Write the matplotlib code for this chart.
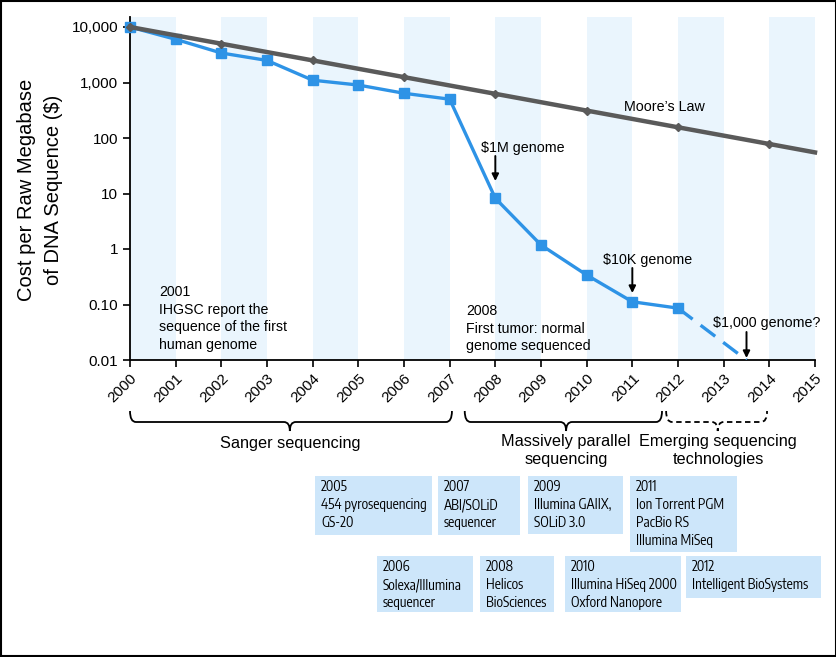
import matplotlib
matplotlib.use("Agg")
import matplotlib.pyplot as plt
import matplotlib.transforms as mtransforms
from matplotlib.patches import Rectangle, PathPatch
from matplotlib.path import Path
from matplotlib import font_manager

# ---------------- data ----------------
cost_years = [2000, 2001, 2002, 2003, 2004, 2005, 2006, 2007, 2008, 2009, 2010, 2011, 2012]
cost_values = [10000, 6000, 3400, 2500, 1100, 900, 640, 500, 8.2, 1.18, 0.34, 0.112, 0.086]
proj_years = [2012, 2013.5]
proj_values = [0.086, 0.01]
moore_years = [2000, 2002, 2004, 2006, 2008, 2010, 2012, 2014, 2015]
moore_values = [10000, 5000, 2500, 1250, 625, 312, 156, 78, 55]
band_starts = [2000, 2002, 2004, 2006, 2008, 2010, 2012, 2014]
year_ticks = list(range(2000, 2016))
y_ticks = [0.01, 0.1, 1, 10, 100, 1000, 10000]
y_tick_labels = ["0.01", "0.10", "1", "10", "100", "1,000", "10,000"]
eras = ["Sanger sequencing", "Massively parallel\nsequencing", "Emerging sequencing\ntechnologies"]
tech_boxes = [
    ["2005", "454 pyrosequencing", "GS-20"],
    ["2007", "ABI/SOLiD", "sequencer"],
    ["2009", "Illumina GAIIX,", "SOLiD 3.0"],
    ["2011", "Ion Torrent PGM", "PacBio RS", "Illumina MiSeq"],
    ["2006", "Solexa/Illumina", "sequencer"],
    ["2008", "Helicos", "BioSciences"],
    ["2010", "Illumina HiSeq 2000", "Oxford Nanopore"],
    ["2012", "Intelligent BioSystems"],
]
milestone_notes = ["2001\nIHGSC report the\nsequence of the first\nhuman genome",
                   "2008\nFirst tumor: normal\ngenome sequenced"]

# ---------------- style ----------------
W, H = 837, 657
BLUE = "#2E93E6"
GRAY = "#5A5A5A"
BAND = "#EAF5FD"
BOXC = "#CDE6FA"

MAIN = ["Liberation Sans", "DejaVu Sans"]
narrow_name = None
for f in font_manager.fontManager.ttflist:
    nm = f.name
    if ("Narrow" in nm or "Condensed" in nm) and ("Sans" in nm or "Roboto" in nm):
        narrow_name = nm
        break
NARROW = [narrow_name, "DejaVu Sans"] if narrow_name else MAIN

plt.rcParams["font.family"] = MAIN

fig = plt.figure(figsize=(W / 100, H / 100), dpi=100)
renderer = fig.canvas.get_renderer()

def fx(x):
    return x / W

def fy(y):
    return 1 - y / H

# size the condensed box font so that a reference line has the measured width
probe = fig.text(0, 0, "454 pyrosequencing", fontsize=10, family=NARROW)
pw = probe.get_window_extent(renderer).width
probe.remove()
nsize = 10 * 106.0 / pw

ax = fig.add_axes([fx(130), fy(360), fx(815) - fx(130), (360 - 17) / H])
ax.set_yscale("log")
ax.set_xlim(2000, 2015)
ax.set_ylim(0.01, 10 ** (4 + 10 / 55.5))

for b in band_starts:
    ax.axvspan(b, b + 1, color=BAND, lw=0, zorder=0)

ax.plot(cost_years, cost_values, color=BLUE, lw=2.4, marker="s", ms=7.5,
        zorder=3, clip_on=False)
ax.plot(proj_years, proj_values, color=BLUE, lw=2.4, ls=(0, (5.5, 3)), zorder=3)
ax.plot(moore_years, moore_values, color=GRAY, lw=3.2, marker="D", ms=4.5,
        markevery=list(range(len(moore_years) - 1)), zorder=4, clip_on=False)

ax.set_yticks(y_ticks)
ax.set_yticklabels(y_tick_labels, fontsize=11)
ax.yaxis.set_minor_locator(matplotlib.ticker.NullLocator())
ax.set_xticks(year_ticks)
ax.set_xticklabels([str(y) for y in year_ticks], fontsize=11, rotation=45,
                   ha="right", rotation_mode="anchor")
ax.tick_params(axis="both", direction="out", length=5, width=1.2, color="black")
ax.tick_params(axis="x", pad=3)
for s in ["top", "right"]:
    ax.spines[s].set_visible(False)
for s in ["left", "bottom"]:
    ax.spines[s].set_linewidth(1.3)
    ax.spines[s].set_color("black")

fig.text(fx(40), fy(190), "Cost per Raw Megabase\nof DNA Sequence ($)", rotation=90,
         ha="center", va="center", multialignment="center", fontsize=14.5,
         linespacing=1.5)

# milestone notes inside the plot
fig.text(fx(159), fy(285), milestone_notes[0], ha="left", va="top",
         fontsize=10.2, linespacing=1.32)
fig.text(fx(466), fy(304), milestone_notes[1], ha="left", va="top",
         fontsize=10.2, linespacing=1.32)

fig.text(fx(624), fy(107), "Moore\u2019s Law", ha="left", va="center", fontsize=10.3)

bt = mtransforms.blended_transform_factory(ax.transData, fig.transFigure)
notes = [("$1M genome", 481, 148, 2008, 156, 181),
         ("$10K genome", 603, 260, 2011, 268, 293),
         ("$1,000 genome?", 713, 323, 2013.5, 332, 358)]
for label, tx, ty, axx, y0, y1 in notes:
    fig.text(fx(tx), fy(ty), label, ha="left", va="center", fontsize=10.3)
    ax.annotate("", xy=(axx, fy(y1)), xycoords=bt, xytext=(axx, fy(y0)), textcoords=bt,
                arrowprops=dict(arrowstyle="-|>", color="black", lw=1.4,
                                mutation_scale=10, shrinkA=0, shrinkB=0),
                annotation_clip=False)

# braces below the axis
def brace_full(x0, x1, xm, ls="-"):
    ytop, yline, ytip = fy(411), fy(422), fy(431)
    r = 0.13
    verts = [(x0, ytop), (x0, yline), (x0 + r, yline), (xm - r, yline),
             (xm, yline), (xm, ytip), (xm, yline), (xm + r, yline),
             (x1 - r, yline), (x1, yline), (x1, ytop)]
    codes = [Path.MOVETO, Path.CURVE3, Path.CURVE3, Path.LINETO,
             Path.CURVE3, Path.CURVE3, Path.CURVE3, Path.CURVE3,
             Path.LINETO, Path.CURVE3, Path.CURVE3]
    p = PathPatch(Path(verts, codes), fill=False, lw=1.3, ls=ls, ec="black",
                  transform=bt, clip_on=False)
    fig.add_artist(p)

brace_spans = [(2000.0, 2007.05, 2003.5, "-"), (2007.33, 2011.65, 2009.55, "-"),
               (2011.74, 2013.95, 2012.87, (0, (3, 2)))]
for x0, x1, xm, ls in brace_spans:
    brace_full(x0, x1, xm, ls)

era_pos = [(290, 445), (566, 443), (718, 443)]
for text, (ex, ey) in zip(eras, era_pos):
    fig.text(fx(ex), fy(ey - 9), text, ha="center", va="top", fontsize=11.7,
             linespacing=1.25)

# technology boxes
box_layout = [(315, 432, 476, 535), (438, 520, 476, 535), (528, 623, 476, 534),
              (630, 737, 476, 552), (377, 473, 556, 612), (480, 554, 556, 612),
              (565, 681, 556, 612), (686, 821, 556, 598)]
for lines, (x0, x1, y0, y1) in zip(tech_boxes, box_layout):
    fig.add_artist(Rectangle((fx(x0), fy(y1)), fx(x1) - fx(x0), (y1 - y0) / H,
                             transform=fig.transFigure, fc=BOXC, ec="none"))
    for i, line in enumerate(lines):
        fig.text(fx(x0 + 6), fy(y0 + 11 + 18 * i), line, ha="left", va="center",
                 fontsize=nsize, family=NARROW)

# outer frame
fig.add_artist(Rectangle((0.0015, 0.0015), 0.997, 0.997, transform=fig.transFigure,
                         fill=False, ec="black", lw=1.5))

fig.savefig("out.png", dpi=100)
